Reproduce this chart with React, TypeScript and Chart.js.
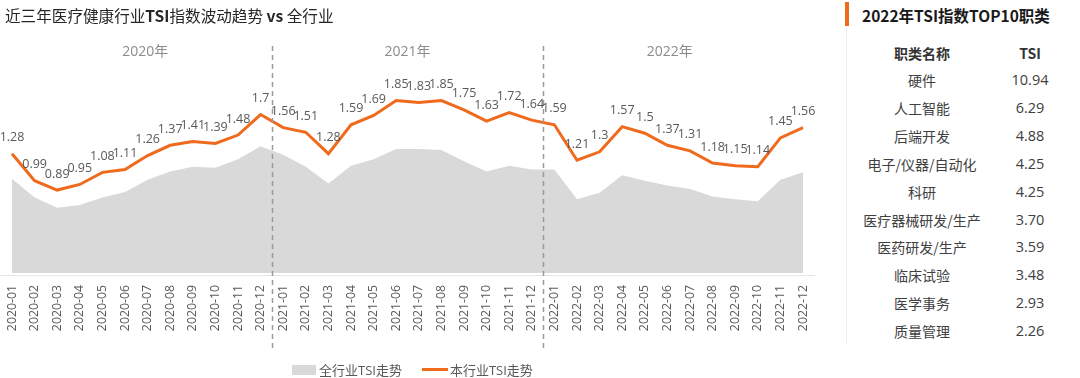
import React, { useEffect, useRef } from "react";
import { Chart, registerables } from "chart.js";

Chart.register(...registerables);

const months = [
  "2020-01", "2020-02", "2020-03", "2020-04", "2020-05", "2020-06",
  "2020-07", "2020-08", "2020-09", "2020-10", "2020-11", "2020-12",
  "2021-01", "2021-02", "2021-03", "2021-04", "2021-05", "2021-06",
  "2021-07", "2021-08", "2021-09", "2021-10", "2021-11", "2021-12",
  "2022-01", "2022-02", "2022-03", "2022-04", "2022-05", "2022-06",
  "2022-07", "2022-08", "2022-09", "2022-10", "2022-11", "2022-12",
];

const industryTSI = [
  1.28, 0.99, 0.89, 0.95, 1.08, 1.11, 1.26, 1.37, 1.41, 1.39, 1.48, 1.7,
  1.56, 1.51, 1.28, 1.59, 1.69, 1.85, 1.83, 1.85, 1.75, 1.63, 1.72, 1.64,
  1.59, 1.21, 1.3, 1.57, 1.5, 1.37, 1.31, 1.18, 1.15, 1.14, 1.45, 1.56,
];

const allIndustryTSI = [
  1.01, 0.81, 0.70, 0.73, 0.81, 0.87, 1.0, 1.09, 1.14, 1.13, 1.22, 1.36,
  1.27, 1.14, 0.96, 1.15, 1.22, 1.33, 1.33, 1.32, 1.2, 1.09, 1.15, 1.11,
  1.11, 0.79, 0.86, 1.05, 0.99, 0.94, 0.9, 0.82, 0.79, 0.77, 1.0, 1.08,
];

const yearLabels = ["2020年", "2021年", "2022年"];
const yearLabelIndex = [5.9, 17.5, 29.1];
const yearDividerIndex = [11.5, 23.5];

const topCategories = [
  "硬件", "人工智能", "后端开发", "电子/仪器/自动化", "科研",
  "医疗器械研发/生产", "医药研发/生产", "临床试验", "医学事务", "质量管理",
];
const topValues = ["10.94", "6.29", "4.88", "4.25", "4.25", "3.70", "3.59", "3.48", "2.93", "2.26"];

const ORANGE = "#F06A1E";
const GRAY = "#D9D9D9";
const FONT = "'Open Sans', 'Noto Sans CJK SC', sans-serif";

const overlayPlugin = {
  id: "overlay",
  beforeDatasetsDraw(chart: any) {
    const { ctx, chartArea } = chart;
    ctx.save();
    ctx.strokeStyle = "#E6E6E6";
    ctx.lineWidth = 1;
    ctx.beginPath();
    ctx.moveTo(0, chartArea.bottom + 2.5);
    ctx.lineTo(chartArea.right + 12, chartArea.bottom + 2.5);
    ctx.stroke();
    ctx.restore();
  },
  afterDatasetsDraw(chart: any) {
    const { ctx } = chart;
    const xs = chart.scales.x;
    const step = xs.getPixelForValue(1) - xs.getPixelForValue(0);
    const x0 = xs.getPixelForValue(0);
    ctx.save();
    ctx.strokeStyle = "#9A9A9A";
    ctx.lineWidth = 1.5;
    ctx.setLineDash([5, 4]);
    yearDividerIndex.forEach((idx) => {
      const x = Math.round(x0 + idx * step) + 0.5;
      ctx.beginPath();
      ctx.moveTo(x, 46);
      ctx.lineTo(x, 348);
      ctx.stroke();
    });
    ctx.setLineDash([]);
    ctx.fillStyle = "#8C8C8C";
    ctx.font = `14px ${FONT}`;
    ctx.textAlign = "center";
    ctx.textBaseline = "middle";
    yearLabels.forEach((t, i) => {
      ctx.fillText(t, x0 + yearLabelIndex[i] * step, 52);
    });
    const meta = chart.getDatasetMeta(1);
    ctx.fillStyle = "#595959";
    ctx.font = `12.5px ${FONT}`;
    meta.data.forEach((pt: any, i: number) => {
      ctx.fillText(String(industryTSI[i]), pt.x, pt.y - 16);
    });
    ctx.restore();
  },
};

function TSIChart() {
  const ref = useRef<HTMLCanvasElement | null>(null);
  useEffect(() => {
    if (!ref.current) return;
    const chart = new Chart(ref.current, {
      type: "line",
      data: {
        labels: months,
        datasets: [
          {
            label: "全行业TSI走势",
            data: allIndustryTSI,
            fill: "origin",
            backgroundColor: GRAY,
            borderWidth: 0,
            pointRadius: 0,
            tension: 0,
            order: 2,
          },
          {
            label: "本行业TSI走势",
            data: industryTSI,
            fill: false,
            borderColor: ORANGE,
            borderWidth: 3,
            pointRadius: 0,
            tension: 0,
            order: 1,
          },
        ],
      },
      options: {
        responsive: false,
        animation: false,
        layout: { padding: { left: 12, right: 27, top: 40, bottom: 0 } },
        plugins: {
          legend: { display: false },
          tooltip: { enabled: false },
          title: { display: false },
        },
        scales: {
          x: {
            grid: { display: false, drawTicks: false },
            border: { display: false },
            ticks: {
              autoSkip: false,
              maxRotation: 90,
              minRotation: 90,
              padding: 12,
              color: "#595959",
              font: { size: 12.3, family: FONT },
            },
            afterFit: (scale: any) => {
              scale.height = 105;
            },
          },
          y: {
            display: false,
            min: 0,
            max: 2.5,
          },
        },
      },
      plugins: [overlayPlugin],
    } as any);
    return () => chart.destroy();
  }, []);
  return (
    <canvas
      ref={ref}
      width={830}
      height={378}
      style={{ position: "absolute", left: 0, top: 0, width: 830, height: 378 }}
    />
  );
}

export default function App() {
  return (
    <div
      style={{
        position: "fixed",
        left: 0,
        top: 0,
        width: 1080,
        height: 378,
        background: "#fff",
        fontFamily: FONT,
        overflow: "hidden",
      }}
    >
      <TSIChart />
      <div
        style={{
          position: "absolute",
          left: 5,
          top: 4,
          fontSize: 15.6,
          lineHeight: "22px",
          color: "#262626",
          whiteSpace: "nowrap",
          fontFamily: "'Noto Sans CJK SC', sans-serif",
        }}
      >
        近三年医疗健康行业<b>TSI</b>指数波动趋势 <b>vs</b> 全行业
      </div>
      <div style={{ position: "absolute", left: 292, top: 360, display: "flex", alignItems: "center", fontSize: 13, color: "#595959", whiteSpace: "nowrap" }}>
        <span style={{ display: "inline-block", width: 24, height: 10, background: GRAY, marginRight: 3 }} />
        <span>全行业TSI走势</span>
        <span style={{ display: "inline-block", width: 26, height: 3, background: ORANGE, marginLeft: 20, marginRight: 2 }} />
        <span>本行业TSI走势</span>
      </div>
      <div style={{ position: "absolute", left: 845, top: 2, width: 4, height: 24, background: ORANGE }} />
      <div style={{ position: "absolute", left: 846, top: 26, width: 1, height: 318, background: "#EFEFEF" }} />
      <div
        style={{
          position: "absolute",
          left: 862,
          top: 4,
          fontSize: 15.5,
          lineHeight: "22px",
          fontWeight: 700,
          color: "#1a1a1a",
          whiteSpace: "nowrap",
          fontFamily: "'Noto Sans CJK SC', sans-serif",
        }}
      >
        2022年TSI指数TOP10职类
      </div>
      <div style={{ position: "absolute", left: 862, top: 42, width: 120, textAlign: "center", fontSize: 14, lineHeight: "22px", fontWeight: 700, color: "#333", fontFamily: "'Noto Sans CJK SC', sans-serif" }}>
        职类名称
      </div>
      <div style={{ position: "absolute", left: 990, top: 42, width: 80, textAlign: "center", fontSize: 14, lineHeight: "22px", fontWeight: 700, color: "#333", fontFamily: "'Noto Sans CJK SC', sans-serif" }}>
        TSI
      </div>
      {topCategories.map((name, i) => (
        <React.Fragment key={name}>
          <div
            style={{
              position: "absolute",
              left: 842,
              top: 69 + i * 27.9,
              width: 160,
              textAlign: "center",
              fontSize: 14,
              lineHeight: "22px",
              color: "#404040",
              whiteSpace: "nowrap",
              fontFamily: "'Noto Sans CJK SC', sans-serif",
            }}
          >
            {name}
          </div>
          <div
            style={{
              position: "absolute",
              left: 990,
              top: 69 + i * 27.9,
              width: 80,
              textAlign: "center",
              fontSize: 14.5,
              lineHeight: "22px",
              color: "#404040",
            }}
          >
            {topValues[i]}
          </div>
        </React.Fragment>
      ))}
    </div>
  );
}
